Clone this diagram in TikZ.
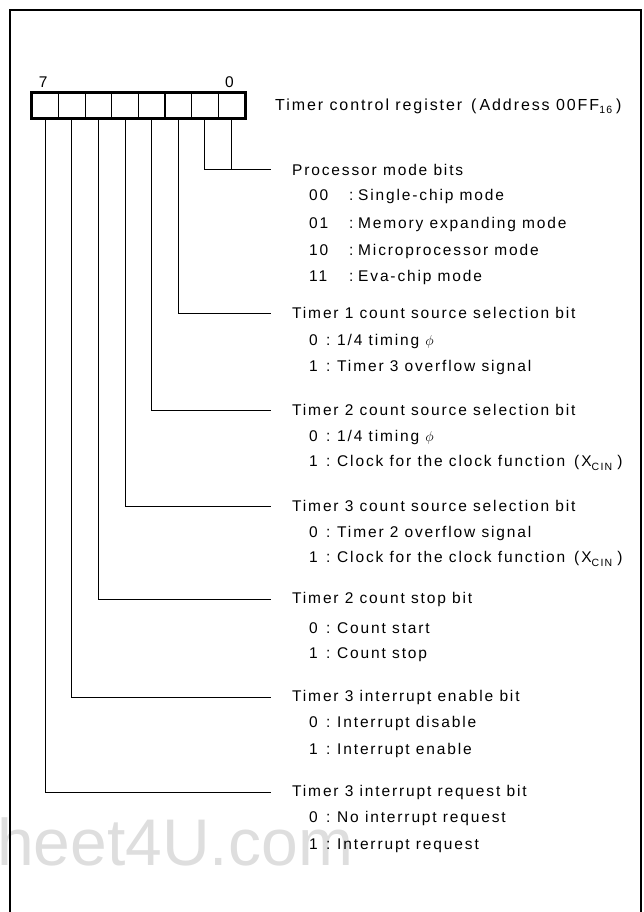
\documentclass[tikz,border=0pt]{standalone}
\usepackage{fontspec}
\setmainfont{Liberation Sans}[LetterSpace=12]
\newfontfamily\wmfont{Liberation Sans}
\newcommand{\sbs}[1]{\raisebox{-0.4ex}{\fontsize{10.5}{10.5}\selectfont #1}}
\newcommand{\itmA}[2]{\makebox[17pt][l]{#1}\makebox[11pt][l]{:}#2}
\newcommand{\itmB}[2]{\makebox[40pt][l]{#1}\makebox[9pt][l]{:}#2}
\newcommand{\xcin}{\hspace*{9pt}(\hspace*{2pt}X\sbs{CIN}\hspace*{5pt})}
\begin{document}
\begin{tikzpicture}[x=1pt,y=-1pt,
  txt/.style={anchor=west,inner sep=0pt,font=\fontsize{15.5}{18}\selectfont},
  head/.style={txt},
  cell/.style={draw,line width=1.1pt,minimum width=26.6pt,minimum height=25pt,inner sep=0pt},
  conn/.style={line width=1pt},
  frame/.style={line width=2.5pt}]
\useasboundingbox (0,0) rectangle (643,912);
% watermark
\node[anchor=base west,inner sep=0pt,text=black!13,font=\wmfont\fontsize{66}{66}\selectfont] (wm) at (-3,865) {heet4U.com};
% frame
\draw[frame] (10,925) -- (10,10) -- (641,10) -- (641,925);
% register cells
\foreach \i in {0,...,7}
  \node[cell] (b\i) at ({45.3+26.6*(7-\i)},105.5) {};
\draw[line width=2.5pt] (b7.north west) rectangle (b0.south east);
\node[txt,anchor=south] (l7) at ([xshift=-2pt,yshift=5pt]b7.north) {7};
\node[txt,anchor=south] (l0) at ([xshift=-2pt,yshift=5pt]b0.north) {0};
\node[txt,font=\fontsize{16}{18}\selectfont] (title) at (275,106) {Timer control register\hspace*{9pt}(\hspace*{3pt}Address 00FF\sbs{16}\hspace*{4pt})};
% processor mode bits
\node[head] (hP) at (292,170) {Processor mode bits};
\node[txt] (p1) at (309,196) {\itmB{00}{Single-chip mode}};
\node[txt] (p2) at (309,224) {\itmB{01}{Memory expanding mode}};
\node[txt] (p3) at (309,251) {\itmB{10}{Microprocessor mode}};
\node[txt] (p4) at (309,277) {\itmB{11}{Eva-chip mode}};
% timer 1 source
\node[head] (h2) at (292,313) {Timer 1 count source selection bit};
\node[txt] (t1a) at (309,341) {\itmA{0}{1/4 timing $\phi$}};
\node[txt] (t1b) at (309,367) {\itmA{1}{Timer 3 overflow signal}};
% timer 2 source
\node[head] (h3) at (292,410) {Timer 2 count source selection bit};
\node[txt] (t2a) at (309,437) {\itmA{0}{1/4 timing $\phi$}};
\node[txt] (t2b) at (309,463) {\itmA{1}{Clock for the clock function\xcin}};
% timer 3 source
\node[head] (h4) at (292,506) {Timer 3 count source selection bit};
\node[txt] (t3a) at (309,533) {\itmA{0}{Timer 2 overflow signal}};
\node[txt] (t3b) at (309,559) {\itmA{1}{Clock for the clock function\xcin}};
% timer 2 stop
\node[head] (h5) at (292,599) {Timer 2 count stop bit};
\node[txt] (s0) at (309,628) {\itmA{0}{Count start}};
\node[txt] (s1) at (309,655) {\itmA{1}{Count stop}};
% timer 3 interrupt enable
\node[head] (h6) at (292,697) {Timer 3 interrupt enable bit};
\node[txt] (e0) at (309,723) {\itmA{0}{Interrupt disable}};
\node[txt] (e1) at (309,750) {\itmA{1}{Interrupt enable}};
% timer 3 interrupt request
\node[head] (h7) at (292,792) {Timer 3 interrupt request bit};
\node[txt] (r0) at (309,818) {\itmA{0}{No interrupt request}};
\node[txt] (r1) at (309,846) {\itmA{1}{Interrupt request}};
% connectors
\draw[conn] (b1.south) |- ([xshift=-21pt]hP.west);
\draw[conn] (b0.south) -- (b0.south |- hP.west);
\draw[conn] (b2.south) |- ([xshift=-21pt]h2.west);
\draw[conn] (b3.south) |- ([xshift=-21pt]h3.west);
\draw[conn] (b4.south) |- ([xshift=-21pt]h4.west);
\draw[conn] (b5.south) |- ([xshift=-21pt]h5.west);
\draw[conn] (b6.south) |- ([xshift=-21pt]h6.west);
\draw[conn] (b7.south) |- ([xshift=-21pt]h7.west);
\end{tikzpicture}
\end{document}
